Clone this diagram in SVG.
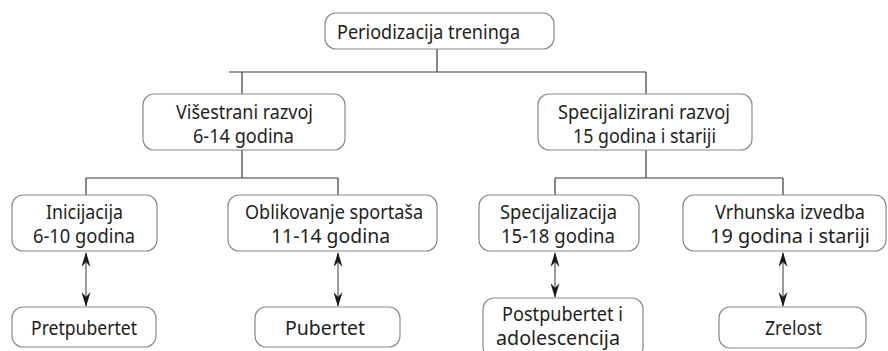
<svg xmlns="http://www.w3.org/2000/svg" width="888" height="351" viewBox="0 0 888 351">
<style>
.box{fill:#fff;stroke:#8c8c8c;stroke-width:1.2}
.t{font-family:"Noto Sans","Open Sans",sans-serif;font-size:19px;fill:#231f20;text-anchor:middle}
.ln{fill:none;stroke:#3a3a3a;stroke-width:1.2}
.ar{fill:none;stroke:#7a7a7a;stroke-width:1.5;marker-start:url(#ah);marker-end:url(#ah)}
</style>
<defs>
<marker id="ah" viewBox="0 0 15 9" refX="14" refY="4.5" markerWidth="15" markerHeight="9" markerUnits="userSpaceOnUse" orient="auto-start-reverse">
<path d="M0,0 L15,4.5 L0,9 L5,4.5 Z" fill="#1a1a1a"/>
</marker>
</defs>
<rect width="888" height="351" fill="#fff"/>
<g id="connectors">
<path class="ln" d="M437,49 V72 M229,72 H646 M242,72 V94 M646,72 V94"/>
<path class="ln" d="M242,150 V178 M86,178 H338 M86,178 V195 M338,178 V195"/>
<path class="ln" d="M646,150 V178 M555,178 H783 M555,178 V195 M783,178 V195"/>
<path class="ar" d="M86,253 V306"/>
<path class="ar" d="M338,253 V306"/>
<path class="ar" d="M555,253 V297"/>
<path class="ar" d="M783,253 V306"/>
</g>
<g id="n-root"><rect class="box" x="325" y="13" width="229" height="36" rx="11"/><text class="t" x="428.5" y="39" textLength="183" lengthAdjust="spacingAndGlyphs">Periodizacija treninga</text></g>
<g id="n-visestrani"><rect class="box" x="143" y="94" width="202" height="56" rx="11"/><text class="t" x="244.5" y="119" textLength="137" lengthAdjust="spacingAndGlyphs">Višestrani razvoj</text><text class="t" x="243.5" y="143" textLength="101" lengthAdjust="spacingAndGlyphs">6-14 godina</text></g>
<g id="n-specijalizirani"><rect class="box" x="538" y="94" width="214" height="56" rx="11"/><text class="t" x="644" y="119" textLength="172" lengthAdjust="spacingAndGlyphs">Specijalizirani razvoj</text><text class="t" x="644.5" y="143" textLength="143" lengthAdjust="spacingAndGlyphs">15 godina i stariji</text></g>
<g id="n-inicijacija"><rect class="box" x="12" y="195" width="145" height="56" rx="11"/><text class="t" x="84.5" y="219" textLength="77" lengthAdjust="spacingAndGlyphs">Inicijacija</text><text class="t" x="84" y="243" textLength="102" lengthAdjust="spacingAndGlyphs">6-10 godina</text></g>
<g id="n-oblikovanje"><rect class="box" x="228" y="195" width="209" height="56" rx="11"/><text class="t" x="334" y="219" textLength="178" lengthAdjust="spacingAndGlyphs">Oblikovanje sportaša</text><text class="t" x="330.5" y="243" textLength="119" lengthAdjust="spacingAndGlyphs">11-14 godina</text></g>
<g id="n-specijalizacija"><rect class="box" x="479" y="195" width="160" height="56" rx="11"/><text class="t" x="558.5" y="219" textLength="117" lengthAdjust="spacingAndGlyphs">Specijalizacija</text><text class="t" x="558" y="243" textLength="114" lengthAdjust="spacingAndGlyphs">15-18 godina</text></g>
<g id="n-vrhunska"><rect class="box" x="683" y="195" width="203" height="56" rx="11"/><text class="t" x="790" y="219" textLength="150" lengthAdjust="spacingAndGlyphs">Vrhunska izvedba</text><text class="t" x="790" y="243" textLength="160" lengthAdjust="spacingAndGlyphs">19 godina i stariji</text></g>
<g id="n-pretpubertet"><rect class="box" x="12" y="307" width="144" height="40" rx="11"/><text class="t" x="84" y="335" textLength="106" lengthAdjust="spacingAndGlyphs">Pretpubertet</text></g>
<g id="n-pubertet"><rect class="box" x="255" y="307" width="145" height="40" rx="11"/><text class="t" x="325" y="335" textLength="80" lengthAdjust="spacingAndGlyphs">Pubertet</text></g>
<g id="n-postpubertet"><rect class="box" x="483" y="298" width="160" height="60" rx="11"/><text class="t" x="562.5" y="321" textLength="121" lengthAdjust="spacingAndGlyphs">Postpubertet i</text><text class="t" x="558" y="345" textLength="124" lengthAdjust="spacingAndGlyphs">adolescencija</text></g>
<g id="n-zrelost"><rect class="box" x="719" y="307" width="147" height="41" rx="11"/><text class="t" x="793.5" y="335" textLength="57" lengthAdjust="spacingAndGlyphs">Zrelost</text></g>
</svg>
